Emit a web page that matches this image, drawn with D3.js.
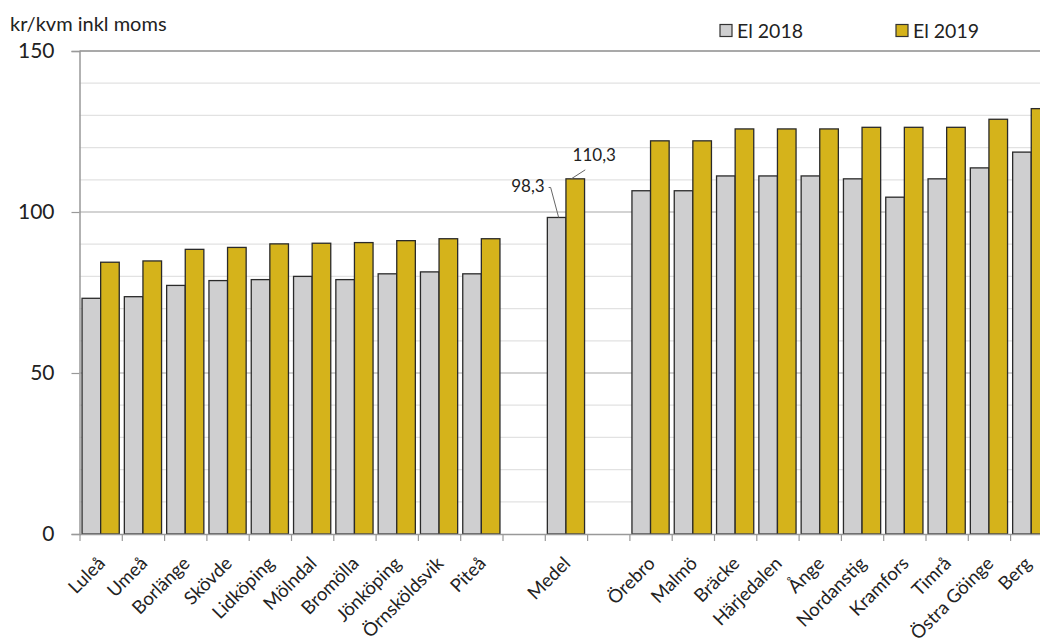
<!DOCTYPE html>
<html>
<head>
<meta charset="utf-8">
<script src="https://cdn.jsdelivr.net/npm/d3@7"></script>
<style>
  html, body { margin: 0; padding: 0; background: #fff; }
  svg { display: block; }
  text { font-family: Lato, "Open Sans", sans-serif; fill: #222; }
</style>
</head>
<body>
<svg id="chart" width="1040" height="644"></svg>
<script>
// ---- data (null = empty slot) ----
const categories = ["Luleå","Umeå","Borlänge","Skövde","Lidköping","Mölndal","Bromölla","Jönköping","Örnsköldsvik","Piteå",
  null, "Medel", null,
  "Örebro","Malmö","Bräcke","Härjedalen","Ånge","Nordanstig","Kramfors","Timrå","Östra Göinge","Berg"];
const el2018 = [73.2,73.7,77.2,78.7,79.0,80.0,79.0,80.8,81.4,80.8,
  null, 98.3, null,
  106.6,106.6,111.2,111.2,111.2,110.3,104.6,110.3,113.7,118.6];
const el2019 = [84.4,84.8,88.4,89.0,90.1,90.3,90.5,91.1,91.7,91.7,
  null, 110.3, null,
  122.1,122.1,125.8,125.8,125.8,126.3,126.3,126.3,128.8,132.1];
const seriesNames = ["El 2018","El 2019"];
const yTicks = [0,50,100,150];
const yGrid = [10,20,30,40,60,70,80,90,110,120,130,140];
const yTitle = "kr/kvm inkl moms";
const medelIndex = 11;

const colors = { "El 2018": "#cfcfd0", "El 2019": "#d5b31b" };

const svg = d3.select("#chart");
const left = 79.5, slot = 42.3, n = categories.length;
const y = d3.scaleLinear().domain([0,150]).range([534, 51]);
const x = d3.scaleBand().domain(d3.range(n)).range([left, left + slot*n]).paddingInner(0).paddingOuter(0);
const xs = d3.scaleBand().domain(seriesNames).range([0, x.bandwidth()]).paddingInner(0).paddingOuter(0.137);
const xLin = d3.scaleLinear().domain([0, n]).range([left, left + slot*n]);

// gridlines
svg.append("g").selectAll("line").data(yGrid).join("line")
  .attr("x1", left).attr("x2", 1040).attr("y1", d => y(d)).attr("y2", d => y(d))
  .attr("stroke", "#e2e2e2").attr("stroke-width", 1.2);
svg.append("g").selectAll("line").data([50,100]).join("line")
  .attr("x1", left).attr("x2", 1040).attr("y1", d => y(d)).attr("y2", d => y(d))
  .attr("stroke", "#a8a8a8").attr("stroke-width", 1.2);
svg.append("line").attr("x1", left).attr("x2", 1040).attr("y1", y(150)).attr("y2", y(150))
  .attr("stroke", "#8c8c8c").attr("stroke-width", 1.5);

// bars
const rows = categories.map((c,i) => ({i, c, v: [el2018[i], el2019[i]]}));
const g = svg.append("g");
rows.filter(r => r.c !== null).forEach(r => {
  seriesNames.forEach((s, k) => {
    g.append("rect")
      .attr("x", x(r.i) + xs(s))
      .attr("y", y(r.v[k]))
      .attr("width", xs.bandwidth())
      .attr("height", y(0) - y(r.v[k]))
      .attr("fill", colors[s])
      .attr("stroke", "#2a2a2a").attr("stroke-width", 1.3);
  });
});

// y axis
const yAxis = svg.append("g").attr("transform", `translate(${left},0)`)
  .call(d3.axisLeft(y).tickValues(yTicks).tickSize(8).tickPadding(17));
yAxis.select(".domain").attr("stroke", "#999").attr("stroke-width", 1.5);
yAxis.selectAll(".tick line").attr("stroke", "#999").attr("stroke-width", 1.2);
yAxis.selectAll(".tick text").attr("font-size", 21).attr("font-family", "Lato, sans-serif").attr("fill", "#222");

// x axis (ticks at slot boundaries)
const xAxis = svg.append("g").attr("transform", `translate(0,${y(0)})`)
  .call(d3.axisBottom(xLin).tickValues(d3.range(n+1)).tickSize(7).tickFormat(""));
xAxis.select(".domain").attr("stroke", "#999").attr("stroke-width", 1.5).attr("d", `M${left},0.5H1040`);
xAxis.selectAll(".tick line").attr("stroke", "#999").attr("stroke-width", 1.2);

// x labels
svg.append("g").selectAll("text").data(rows.filter(r => r.c !== null)).join("text")
  .attr("transform", r => `translate(${Math.min(x(r.i) + x.bandwidth()/2 + 1, 1028)},${y(0) + 26}) rotate(-45)`)
  .attr("text-anchor", "end")
  .attr("dy", "0.35em")
  .attr("font-size", 18.5)
  .text(r => r.c);

// title
svg.append("text").attr("x", 10).attr("y", 31).attr("font-size", 20).text(yTitle);

// legend
const legendX = [720, 896];
seriesNames.forEach((s, k) => {
  svg.append("rect").attr("x", legendX[k]).attr("y", 24.5).attr("width", 12).attr("height", 12)
    .attr("fill", colors[s]).attr("stroke", "#333").attr("stroke-width", 1.2);
  svg.append("text").attr("x", legendX[k] + 17).attr("y", 37.5).attr("font-size", 19.5).text(s);
});

// data labels for Medel
const fmt = v => v.toFixed(1).replace(".", ",");
const mx0 = x(medelIndex) + xs("El 2018") + xs.bandwidth()/2;
const mx1 = x(medelIndex) + xs("El 2019") + xs.bandwidth()/2;
const yl0 = y(el2018[medelIndex]), yl1 = y(el2019[medelIndex]);
svg.append("text").attr("x", mx0 - 12).attr("y", yl0 - 25)
  .attr("text-anchor", "end").attr("font-family", "'Liberation Sans', Arial, sans-serif")
  .attr("font-size", 17).text(fmt(el2018[medelIndex]));
svg.append("path").attr("d", `M${mx0-8},${yl0-30}H${mx0-6}L${mx0+2},${yl0}`)
  .attr("fill", "none").attr("stroke", "#666").attr("stroke-width", 1);
svg.append("text").attr("x", mx1 + 19).attr("y", yl1 - 18)
  .attr("text-anchor", "middle").attr("font-family", "'Liberation Sans', Arial, sans-serif")
  .attr("font-size", 17).text(fmt(el2019[medelIndex]));
svg.append("path").attr("d", `M${mx1 - 4},${yl1}L${mx1 + 10},${yl1 - 9}`)
  .attr("fill", "none").attr("stroke", "#666").attr("stroke-width", 1);
</script>
</body>
</html>
